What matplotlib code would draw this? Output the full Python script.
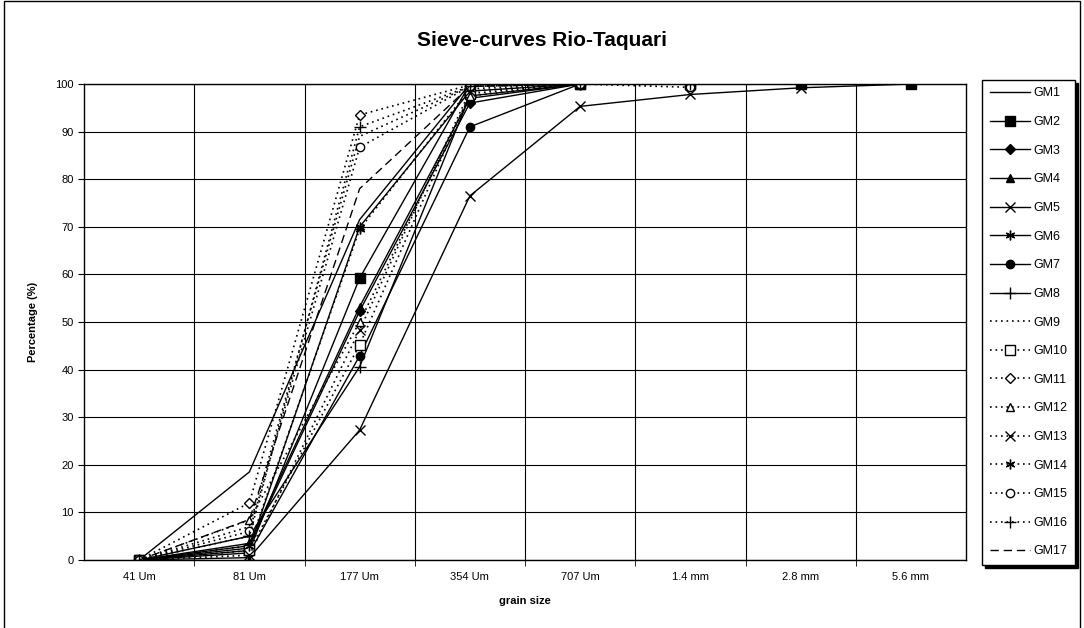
import numpy as np
import matplotlib
matplotlib.use("Agg")
import matplotlib.pyplot as plt
from matplotlib.patches import Rectangle

plt.rcParams['font.family'] = ['Liberation Sans', 'DejaVu Sans']

nan = np.nan

# sieve sizes
sizes = ['41 Um', '81 Um', '177 Um', '354 Um', '707 Um', '1.4 mm', '2.8 mm', '5.6 mm']

# percentage passing per sample
gm1 = [0, 18.5, 71.5, 100, 100, 100, 100, 100]
gm2 = [0, 2.0, 59.2, 100, 100, 100, 100, 100]
gm3 = [0, 3.0, 52.3, 96.0, 100, 100, nan, nan]
gm4 = [0, 3.5, 53.2, 97.0, 100, 100, nan, nan]
gm5 = [0, 0.5, 27.3, 76.5, 95.3, 97.8, 99.2, 100]
gm6 = [0, 2.5, 70.0, 98.5, 100, 100, nan, nan]
gm7 = [0, 1.5, 42.9, 91.0, 100, 100, nan, nan]
gm8 = [0, 5.0, 40.6, 97.5, 100, 100, nan, nan]
gm9 = [0, 7.0, 89.0, 99.5, 100, 100, nan, nan]
gm10 = [0, 2.0, 45.2, 98.0, 100, 100, nan, nan]
gm11 = [0, 12.0, 93.5, 99.8, 100, 100, nan, nan]
gm12 = [0, 8.4, 50.0, 97.5, 100, 100, nan, nan]
gm13 = [0, 1.0, 48.3, 98.5, 100, 100, nan, nan]
gm14 = [0, 3.0, 69.5, 99.0, 100, 100, nan, nan]
gm15 = [0, 6.0, 86.7, 99.5, 100, 99.3, nan, nan]
gm16 = [0, 5.0, 91.0, 99.5, 100, 100, nan, nan]
gm17 = [0, 8.5, 78.0, 99.5, 100, 100, nan, nan]

names = ['GM%d' % i for i in range(1, 18)]
series = [gm1, gm2, gm3, gm4, gm5, gm6, gm7, gm8, gm9,
          gm10, gm11, gm12, gm13, gm14, gm15, gm16, gm17]

asterisk = (6, 2, 0)
dots = (0, (1, 2.3))
dashes = (0, (6, 3.5))
# (linestyle, marker, filled)
styles = [
    ('-', None, True), ('-', 's', True), ('-', 'D', True), ('-', '^', True),
    ('-', 'x', True), ('-', asterisk, True), ('-', 'o', True), ('-', '+', True),
    (dots, None, True), (dots, 's', False), (dots, 'D', False), (dots, '^', False),
    (dots, 'x', True), (dots, asterisk, True), (dots, 'o', False), (dots, '+', True),
    (dashes, None, True),
]
msizes = {'s': 6.5, 'D': 5, '^': 6, 'x': 7, 'o': 6, '+': 8}

fig = plt.figure(figsize=(10.84, 6.28), dpi=100)
ax = fig.add_axes([84 / 1084, 68 / 628, 882 / 1084, 476 / 628])

x = np.arange(len(sizes))
for name, ys, (ls, mk, filled) in zip(names, series, styles):
    ms = msizes.get(mk, 7) if mk is not None else 0
    lw = 1.2 if ls is dots else 1.0
    ax.plot(x, ys, color='black', linestyle=ls, linewidth=lw,
            marker=mk, markersize=ms,
            markerfacecolor='black' if filled else 'white',
            markeredgecolor='black', markeredgewidth=1.0, label=name)

ax.set_xlim(-0.5, len(sizes) - 0.5)
ax.set_ylim(0, 100)
ax.set_yticks(np.arange(0, 101, 10))
ax.set_xticks(x)
ax.set_xticklabels(sizes, fontsize=8)
ax.set_xticks(np.arange(0.5, len(sizes) - 1, 1), minor=True)
ax.tick_params(axis='x', which='major', length=0, pad=9)
ax.tick_params(axis='x', which='minor', length=4, direction='out')
ax.tick_params(axis='y', labelsize=8, length=4, direction='out')
ax.grid(True, which='major', axis='y', color='black', linewidth=0.8)
ax.grid(True, which='minor', axis='x', color='black', linewidth=0.8)
for sp in ax.spines.values():
    sp.set_linewidth(1.0)
ax.set_axisbelow(True)

ax.set_xlabel('grain size', fontsize=8, fontweight='bold', labelpad=10)
ax.set_ylabel('Percentage (%)', fontsize=8, fontweight='bold', labelpad=12)
fig.text(0.5, 1 - 40 / 628, 'Sieve-curves Rio-Taquari', ha='center', va='center',
         fontsize=15, fontweight='bold')

leg = fig.legend(loc='upper left', bbox_to_anchor=(982 / 1084, 1 - 80 / 628),
                 frameon=True, fancybox=False, fontsize=9, handlelength=3.2,
                 handletextpad=0.3, labelspacing=1.33, borderpad=0.6,
                 borderaxespad=0,
                 shadow={'facecolor': 'black', 'edgecolor': 'black', 'alpha': 1})
leg.get_frame().set_edgecolor('black')
leg.get_frame().set_linewidth(1.0)

# outer chart border
fig.patches.append(Rectangle((4 / 1084, -0.01), 1076 / 1084, 1.0 - 1 / 628 + 0.01,
                             transform=fig.transFigure, fill=False,
                             edgecolor='black', linewidth=1.0))

fig.savefig('out.png', dpi=100)
